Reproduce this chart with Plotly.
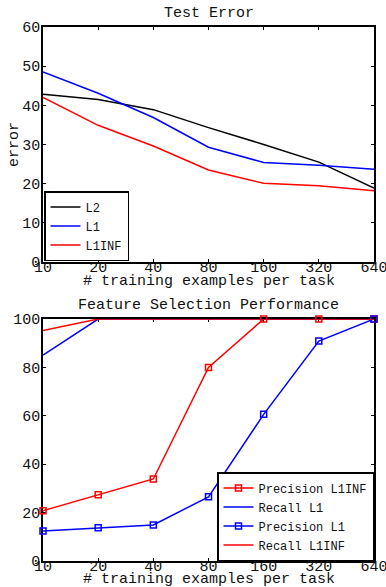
import plotly.graph_objects as go

x_vals = [10, 20, 40, 80, 160, 320, 640]
x_ticks = ["10", "20", "40", "80", "160", "320", "640"]

err_l2 = [42.8, 41.5, 38.9, 34.3, 30.0, 25.5, 18.9]
err_l1 = [48.5, 43.1, 36.9, 29.3, 25.4, 24.7, 23.7]
err_l1inf = [42.0, 34.9, 29.6, 23.5, 20.1, 19.5, 18.2]

prec_l1inf = [20.8, 27.4, 33.9, 80.0, 100, 100, 100]
recall_l1 = [85.1, 100, 100, 100, 100, 100, 100]
prec_l1 = [12.4, 13.7, 14.9, 26.5, 60.6, 90.9, 100]
recall_l1inf = [95.2, 100, 100, 100, 100, 100, 100]

FONT = "Liberation Mono"
W, H = 386, 587


def px(x):
    return x / W


def py(y):
    return 1 - y / H


xdom = [px(43), px(374)]
top_dom = [py(262), py(27)]
bot_dom = [py(561), py(319)]

fig = go.Figure()

top = [("L2", err_l2, "black"), ("L1", err_l1, "blue"), ("L1INF", err_l1inf, "red")]
for name, ys, c in top:
    fig.add_trace(go.Scatter(x=x_vals, y=ys, name=name, mode="lines",
                             line=dict(color=c, width=1.5),
                             xaxis="x", yaxis="y", legend="legend"))

bot = [("Precision L1INF", prec_l1inf, "red", True),
       ("Recall L1", recall_l1, "blue", False),
       ("Precision L1", prec_l1, "blue", True),
       ("Recall L1INF", recall_l1inf, "red", False)]
for name, ys, c, mk in bot:
    fig.add_trace(go.Scatter(x=x_vals, y=ys, name=name,
                             mode="lines+markers" if mk else "lines",
                             line=dict(color=c, width=1.5),
                             marker=dict(symbol="square-open", size=6,
                                         color=c, line=dict(width=1.5, color=c)),
                             cliponaxis=False,
                             xaxis="x2", yaxis="y2", legend="legend2"))

axis_common = dict(
    type="log", range=[1, 2.80618], tickvals=x_vals, ticktext=x_ticks,
    ticks="inside", ticklen=3, tickwidth=1, tickcolor="black",
    showline=True, linecolor="black", linewidth=1.5, mirror="ticks",
    showgrid=False, zeroline=False, automargin=False,
    tickfont=dict(family=FONT, size=15, color="#111"),
    ticklabelstandoff=-10, ticklabeloverflow="allow",
)
yaxis_common = dict(
    ticks="inside", ticklen=3, tickwidth=1, tickcolor="black",
    showline=True, linecolor="black", linewidth=1.5, mirror="ticks",
    showgrid=False, zeroline=False, automargin=False,
    tickfont=dict(family=FONT, size=15, color="#111"),
    ticklabelstandoff=-2, ticklabeloverflow="allow",
)

legend_common = dict(
    bgcolor="white", bordercolor="black", borderwidth=1.5,
    font=dict(family=FONT, size=12, color="#111"),
    itemwidth=30, tracegroupgap=0,
)

ann_font = dict(family=FONT, size=15, color="#111")
xc = sum(xdom) / 2


def ann(text, x, y, **kw):
    return dict(text=text, x=x, y=y, xref="paper", yref="paper", showarrow=False,
                xanchor="center", yanchor="middle", font=ann_font, **kw)


fig.update_layout(
    template="none",
    width=W, height=H,
    margin=dict(l=0, r=0, t=0, b=0, autoexpand=False),
    paper_bgcolor="white", plot_bgcolor="white",
    showlegend=True,
    xaxis=dict(axis_common, domain=xdom, anchor="y"),
    yaxis=dict(yaxis_common, domain=top_dom, anchor="x", range=[0, 60],
               tickvals=[0, 10, 20, 30, 40, 50, 60]),
    xaxis2=dict(axis_common, domain=xdom, anchor="y2", layer="below traces"),
    yaxis2=dict(yaxis_common, domain=bot_dom, anchor="x2", range=[0, 100],
                tickvals=[0, 20, 40, 60, 80, 100], layer="below traces"),
    legend=dict(legend_common, x=px(44), y=py(261),
                xanchor="left", yanchor="bottom"),
    legend2=dict(legend_common, x=px(374), y=py(561),
                 xanchor="right", yanchor="bottom"),
    annotations=[
        ann("Test Error", xc, py(13.5)),
        ann("Feature Selection Performance", xc, py(305)),
        ann("# training examples per task", xc, py(282)),
        ann("# training examples per task", xc, py(579)),
        ann("error", px(15), py(145), textangle=-90),
    ],
)

fig.write_html(
    "out.html",
    config={"displayModeBar": False},
    post_script="document.body.style.margin='0';document.body.style.overflow='hidden';",
)
